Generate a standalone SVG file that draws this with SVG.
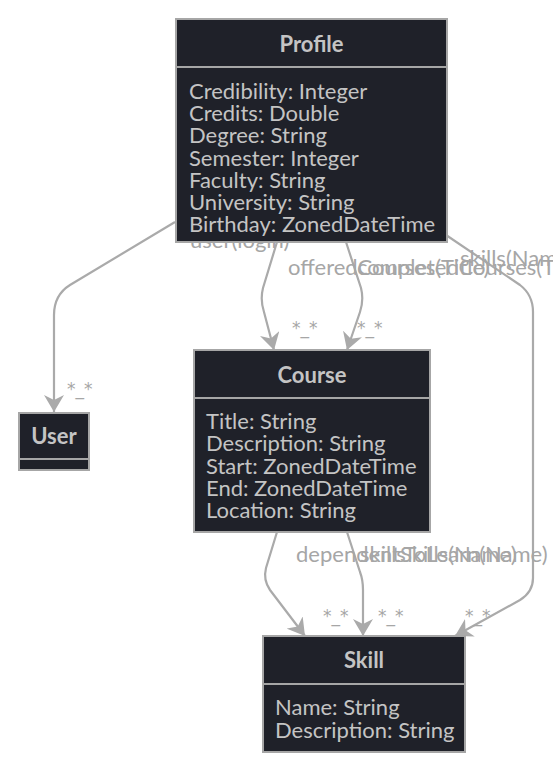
<svg xmlns="http://www.w3.org/2000/svg" width="553" height="771" viewBox="0 0 553 771">
<defs>
<style>
.box{fill:#1f2129;stroke:#a6a6a6;stroke-width:2}
.div{stroke:#a6a6a6;stroke-width:2}
.title{font-family:Lato,"Liberation Sans",sans-serif;font-size:22px;font-weight:bold;fill:#c4c4c4;text-anchor:middle}
.attr{font-family:Lato,"Liberation Sans",sans-serif;font-size:22px;fill:#c4c4c4}
.edge{fill:none;stroke:#aaaaaa;stroke-width:2.2;marker-end:url(#arrow)}
.lbl{font-family:Lato,"Liberation Sans",sans-serif;font-size:22px;fill:#a6a6a6}
.card{font-family:"DejaVu Sans",sans-serif;font-size:17px;fill:#a6a6a6}
</style>
<marker id="arrow" markerUnits="userSpaceOnUse" markerWidth="20" markerHeight="20" refX="17" refY="10" orient="auto" viewBox="0 0 20 20">
<path d="M0,0 L17,10 L0,20 L5,10 Z" fill="#aaaaaa"/>
</marker>
</defs>
<rect width="553" height="771" fill="#ffffff"/>
<g id="connectors">
<path class="edge" d="M175,222 L70,285 Q54,295 54,315 L54,412"/>
<path class="edge" d="M277,242 L263,288 Q260,300 264,312 L274,350"/>
<path class="edge" d="M346,242 L361,288 Q364,300 360,312 L347,350"/>
<path class="edge" d="M446,235 L520,285 Q533,295 533,312 L533,578 Q533,592 520,600 L455,636"/>
<path class="edge" d="M277,532 L266,568 Q263,580 270,590 L305,636"/>
<path class="edge" d="M347,532 L360,572 Q363,580 363,590 L363,636"/>
<text class="lbl" x="190" y="248">user(login)</text>
<text class="lbl" x="288" y="275">offeredCourses(Title)</text>
<text class="lbl" x="357" y="275">completedCourses(Title)</text>
<text class="lbl" x="460" y="266">skills(Name)</text>
<text class="lbl" x="296" y="562">dependentSkills(Name)</text>
<text class="lbl" x="360" y="562">skillsToLearn(Name)</text>
<text class="card" x="67" y="395">*_*</text>
<text class="card" x="292" y="334">*_*</text>
<text class="card" x="357" y="334">*_*</text>
<text class="card" x="323" y="622">*_*</text>
<text class="card" x="378" y="622">*_*</text>
<text class="card" x="465" y="622">*_*</text>
</g>
<g id="Profile">
<rect class="box" x="176" y="19" width="271" height="223"/>
<line class="div" x1="176" y1="67" x2="447" y2="67"/>
<text class="title" x="311.5" y="52">Profile</text>
<text class="attr" x="189" y="99">Credibility: Integer</text>
<text class="attr" x="189" y="121">Credits: Double</text>
<text class="attr" x="189" y="143">Degree: String</text>
<text class="attr" x="189" y="166">Semester: Integer</text>
<text class="attr" x="189" y="188">Faculty: String</text>
<text class="attr" x="189" y="210">University: String</text>
<text class="attr" x="189" y="232">Birthday: ZonedDateTime</text>
</g>
<g id="User">
<rect class="box" x="19" y="413" width="70" height="57"/>
<line class="div" x1="19" y1="459" x2="89" y2="459"/>
<text class="title" x="54" y="444">User</text>
</g>
<g id="Course">
<rect class="box" x="194" y="350" width="236" height="182"/>
<line class="div" x1="194" y1="398" x2="430" y2="398"/>
<text class="title" x="312" y="383">Course</text>
<text class="attr" x="206" y="429">Title: String</text>
<text class="attr" x="206" y="451">Description: String</text>
<text class="attr" x="206" y="474">Start: ZonedDateTime</text>
<text class="attr" x="206" y="496">End: ZonedDateTime</text>
<text class="attr" x="206" y="518">Location: String</text>
</g>
<g id="Skill">
<rect class="box" x="263" y="636" width="202" height="116"/>
<line class="div" x1="263" y1="684" x2="465" y2="684"/>
<text class="title" x="364" y="668">Skill</text>
<text class="attr" x="275" y="715">Name: String</text>
<text class="attr" x="275" y="738">Description: String</text>
</g>
</svg>
